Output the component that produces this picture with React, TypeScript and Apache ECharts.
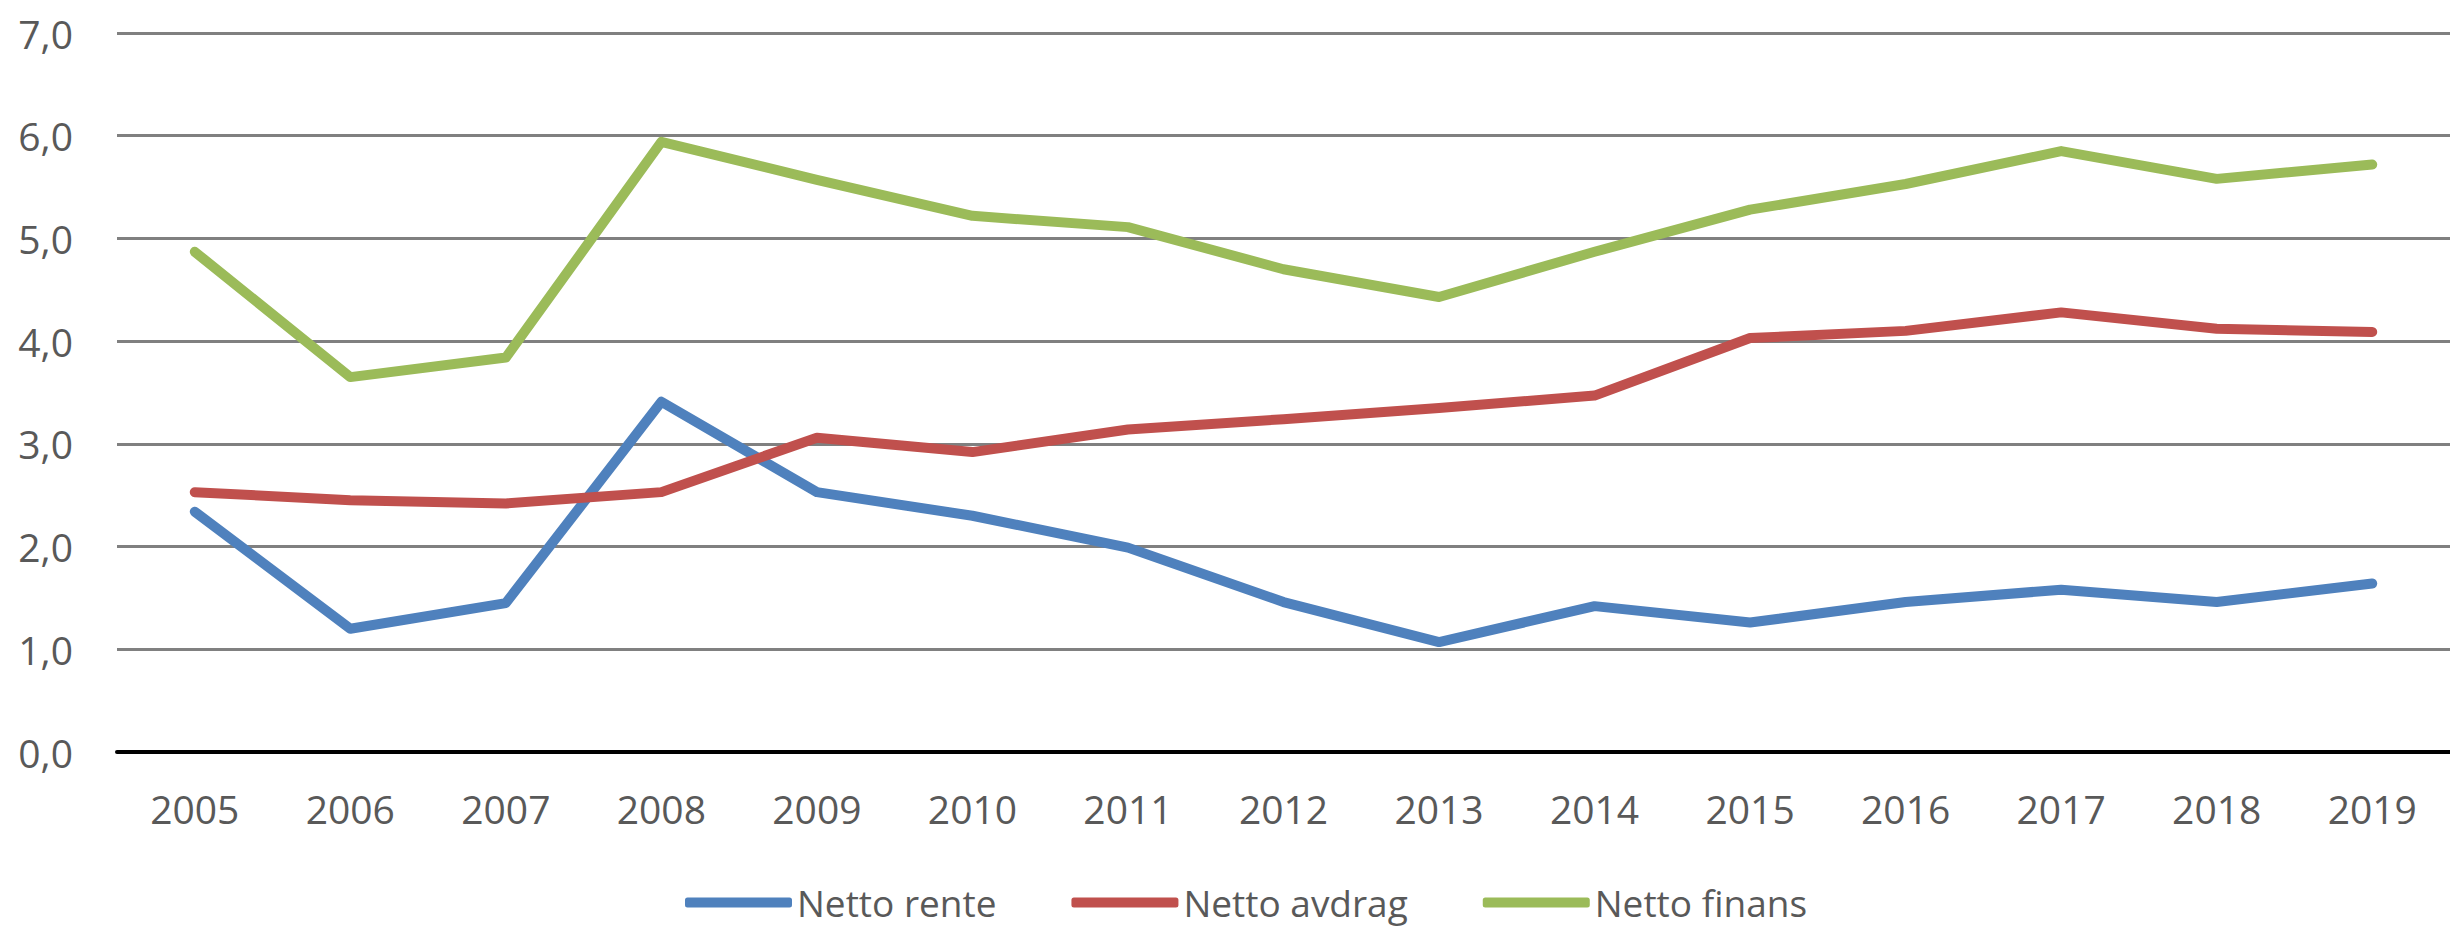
import React, { useEffect, useRef } from "react";
import * as echarts from "echarts";

const years = ["2005", "2006", "2007", "2008", "2009", "2010", "2011", "2012", "2013", "2014", "2015", "2016", "2017", "2018", "2019"];
const nettoRente = [2.34, 1.2, 1.45, 3.41, 2.53, 2.3, 1.99, 1.46, 1.07, 1.42, 1.26, 1.46, 1.58, 1.46, 1.64];
const nettoAvdrag = [2.53, 2.45, 2.42, 2.53, 3.06, 2.92, 3.14, 3.24, 3.35, 3.47, 4.03, 4.1, 4.28, 4.12, 4.09];
const nettoFinans = [4.87, 3.65, 3.84, 5.94, 5.57, 5.22, 5.11, 4.7, 4.43, 4.87, 5.28, 5.53, 5.85, 5.58, 5.72];

const seriesNames = ["Netto rente", "Netto avdrag", "Netto finans"];
const colors = ["#4F81BD", "#C0504D", "#9BBB59"];

export default function App() {
  const ref = useRef<HTMLDivElement>(null);
  useEffect(() => {
    document.body.style.margin = "0";
    const chart = echarts.init(ref.current!, null, { renderer: "svg" });
    const font = "'Open Sans', sans-serif";
    const dataSets = [nettoRente, nettoAvdrag, nettoFinans];
    chart.setOption({
      animation: false,
      backgroundColor: "#ffffff",
      textStyle: { fontFamily: font },
      grid: { left: 117, right: 0, top: 33, bottom: 928 - 752 },
      legend: {
        left: 680,
        top: 879,
        itemWidth: 107,
        itemHeight: 10,
        itemGap: 75,
        icon: "roundRect",
        textStyle: { fontFamily: font, fontSize: 37, color: "#595959", lineHeight: 37 },
        data: seriesNames,
      },
      xAxis: {
        type: "category",
        data: years,
        boundaryGap: true,
        axisLine: { show: true, lineStyle: { color: "#000000", width: 4 } },
        axisTick: { show: false },
        axisLabel: { fontFamily: font, fontSize: 39, color: "#595959", margin: 37, lineHeight: 39 },
        splitLine: { show: false },
      },
      yAxis: {
        type: "value",
        min: 0,
        max: 7,
        interval: 1,
        axisLine: { show: false },
        axisTick: { show: false },
        axisLabel: {
          fontFamily: font,
          fontSize: 39,
          color: "#595959",
          margin: 44,
          formatter: (v: number) => v.toFixed(1).replace(".", ","),
        },
        splitLine: { show: true, lineStyle: { color: "#808080", width: 3 } },
      },
      series: seriesNames.map((name, i) => ({
        name,
        type: "line",
        data: dataSets[i],
        symbol: "none",
        color: colors[i],
        lineStyle: { color: colors[i], width: 10, cap: "round", join: "round" },
        itemStyle: { color: colors[i] },
      })),
    });
    return () => chart.dispose();
  }, []);
  return <div ref={ref} style={{ position: "absolute", left: 0, top: 0, width: 2450, height: 928 }} />;
}
